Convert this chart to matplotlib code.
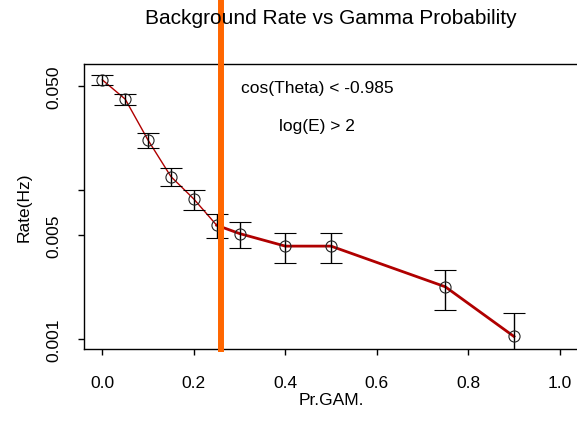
import matplotlib
matplotlib.use("Agg")
import matplotlib.pyplot as plt
import numpy as np

# Data
pr_gam = [0.0, 0.05, 0.10, 0.15, 0.20, 0.25, 0.30, 0.40, 0.50, 0.75, 0.90]
rate = [0.0548, 0.0407, 0.0216, 0.0123, 0.0087, 0.0058, 0.0051, 0.0042, 0.0042, 0.00224, 0.00104]
rate_err = [0.0039, 0.0035, 0.0024, 0.0017, 0.00135, 0.00105, 0.0010, 0.00095, 0.00095, 0.00067, 0.00046]
cut_value = 0.26
x_ticks = [0.0, 0.2, 0.4, 0.6, 0.8, 1.0]
x_tick_labels = ["0.0", "0.2", "0.4", "0.6", "0.8", "1.0"]
y_ticks = [0.001, 0.005, 0.01, 0.05]
y_tick_labels = ["0.001", "0.005", "", "0.050"]
title = "Background Rate vs Gamma Probability"
xlabel = "Pr.GAM."
ylabel = "Rate(Hz)"
note1 = "cos(Theta) < -0.985"
note2 = "log(E) > 2"

plt.rcParams['font.family'] = ['Liberation Sans', 'DejaVu Sans']

W, H = 577, 427
fig = plt.figure(figsize=(W / 100, H / 100), dpi=100)
left, right, top, bottom = 84, 578, 65, 350
ax = fig.add_axes([left / W, 1 - bottom / H, (right - left) / W, (bottom - top) / H])

ax.set_yscale('log')
ax.set_xlim(-0.04, 1.04)
ax.set_ylim(0.000857, 0.0700)

# red connecting line: thin for first part, thick for the rest
split = 5
ax.plot(pr_gam[:split + 1], rate[:split + 1], color='#B00000', lw=1.0, zorder=2)
ax.plot(pr_gam[split:], rate[split:], color='#B00000', lw=2.0, zorder=2)

ax.errorbar(pr_gam, rate, yerr=rate_err, fmt='o', mfc='none', mec='#222222',
            mew=0.8, ms=8, ecolor='black', elinewidth=1.0, capsize=8,
            capthick=1.0, zorder=3)

ax.axvline(cut_value, ymin=0, ymax=1.3, color='#FF6600', lw=4.3,
           clip_on=False, zorder=10)

ax.set_xticks(x_ticks)
ax.set_xticklabels(x_tick_labels)
ax.set_yticks(y_ticks)
ax.set_yticklabels(y_tick_labels, rotation=90, va='center')
ax.yaxis.set_minor_locator(matplotlib.ticker.NullLocator())

ax.tick_params(axis='both', direction='out', length=4, width=1.0,
               labelsize=12.5, colors='black')
ax.tick_params(axis='x', pad=15)
ax.tick_params(axis='y', pad=12)

for s in ['left', 'bottom', 'top']:
    ax.spines[s].set_linewidth(1.0)
    ax.spines[s].set_color('black')
ax.spines['right'].set_visible(False)

ax.text(0.47, 0.049, note1, ha='center', va='center', fontsize=12.5)
ax.text(0.47, 0.0272, note2, ha='center', va='center', fontsize=12.5)

fig.text((left + right) / 2 / W, 1 - 18 / H, title, ha='center', va='center', fontsize=15)
fig.text((left + right) / 2 / W, 1 - 401 / H, xlabel, ha='center', va='center', fontsize=12.5)
fig.text(24 / W, 1 - ((top + bottom) / 2) / H, ylabel, ha='center', va='center',
         rotation=90, fontsize=12.5)

fig.savefig("out.png", dpi=100)
